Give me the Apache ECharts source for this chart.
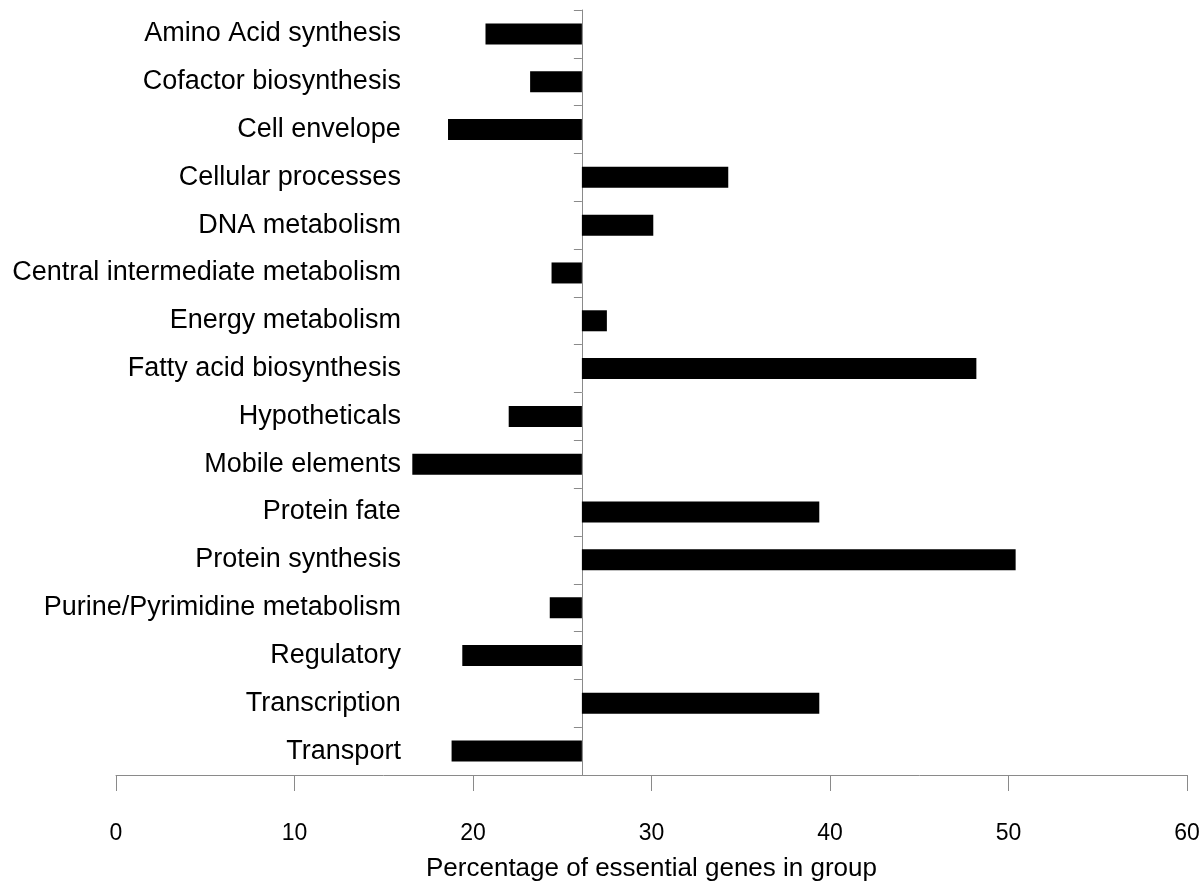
<!DOCTYPE html>
<html>
<head>
<meta charset="utf-8">
<script src="https://cdn.jsdelivr.net/npm/echarts@6/dist/echarts.min.js"></script>
<style>
html,body{margin:0;padding:0;background:#fff;}
#chart{width:1200px;height:888px;}
</style>
</head>
<body>
<div id="chart"></div>
<script>
const categories = [
  'Amino Acid synthesis',
  'Cofactor biosynthesis',
  'Cell envelope',
  'Cellular processes',
  'DNA metabolism',
  'Central intermediate metabolism',
  'Energy metabolism',
  'Fatty acid biosynthesis',
  'Hypotheticals',
  'Mobile elements',
  'Protein fate',
  'Protein synthesis',
  'Purine/Pyrimidine metabolism',
  'Regulatory',
  'Transcription',
  'Transport'
];
const values = [20.7, 23.2, 18.6, 34.3, 30.1, 24.4, 27.5, 48.2, 22.0, 16.6, 39.4, 50.4, 24.3, 19.4, 39.4, 18.8];
const baseline = 26.1;
const xMin = 0, xMax = 60, xInterval = 10;
const xTitle = 'Percentage of essential genes in group';

const gridLeft = 116, gridWidth = 1071, gridTop = 10, gridHeight = 765;
const baseData = values.map(v => Math.min(v, baseline));
const barData = values.map(v => Math.abs(v - baseline));
const font = 'Liberation Sans, Arial, Helvetica, sans-serif';

const chart = echarts.init(document.getElementById('chart'));
chart.setOption({
  animation: false,
  backgroundColor: '#fff',
  grid: { left: gridLeft, width: gridWidth, top: gridTop, height: gridHeight,
          containLabel: false, outerBoundsMode: 'none' },
  xAxis: {
    type: 'value', min: xMin, max: xMax, interval: xInterval,
    axisLine: { show: true, lineStyle: { color: '#8a8a8a', width: 1 } },
    axisTick: { show: true, length: 16, lineStyle: { color: '#8a8a8a' } },
    splitLine: { show: false },
    axisLabel: { color: '#000', fontSize: 23, fontFamily: font, margin: 47 },
    name: xTitle, nameLocation: 'middle', nameGap: 81,
    nameTextStyle: { color: '#000', fontSize: 26, fontFamily: font }
  },
  yAxis: {
    type: 'category', data: categories, inverse: true,
    offset: -(baseline - xMin) / (xMax - xMin) * gridWidth,
    axisLine: { show: true, lineStyle: { color: '#8a8a8a', width: 1 } },
    axisTick: { show: true, length: 8, lineStyle: { color: '#8a8a8a' } },
    axisLabel: { color: '#000', fontSize: 27, fontFamily: font, margin: 181 }
  },
  series: [
    { type: 'bar', stack: 's', data: baseData, barWidth: 21,
      itemStyle: { color: 'rgba(0,0,0,0)' }, silent: true },
    { type: 'bar', stack: 's', data: barData, barWidth: 21,
      itemStyle: { color: '#000' } }
  ]
});
</script>
</body>
</html>
